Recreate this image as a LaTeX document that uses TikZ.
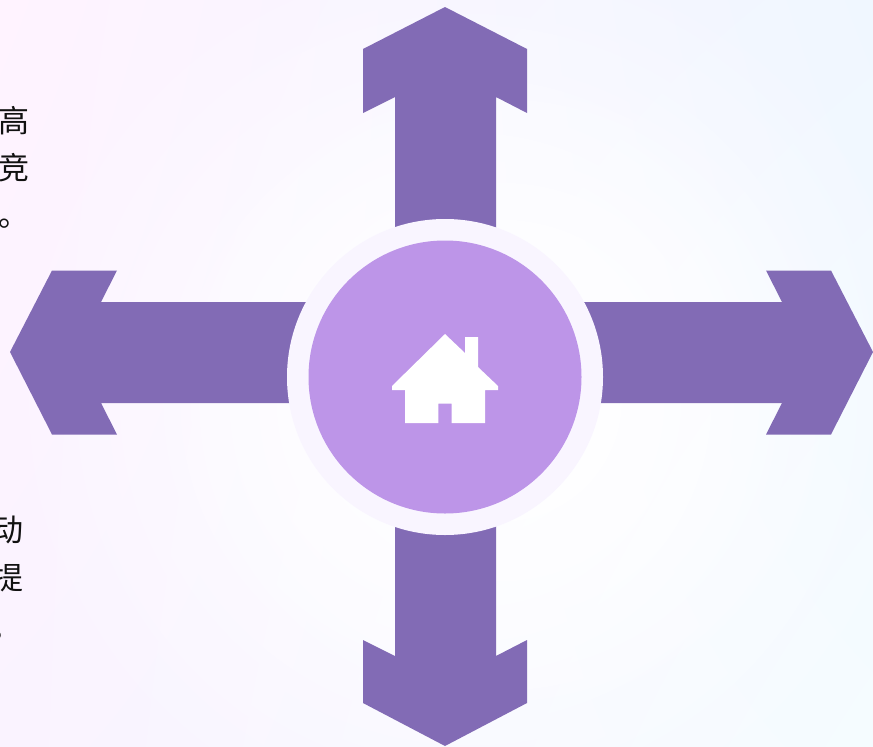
\documentclass[tikz,border=0pt]{standalone}
\usepackage{fontspec}
\newfontfamily\cjk{Noto Sans CJK SC}
\usetikzlibrary{fadings,shadings}
\definecolor{arrowcol}{HTML}{826BB5}
\definecolor{ringcol}{HTML}{F9F5FF}
\definecolor{corecol}{HTML}{BD95E8}
\definecolor{textcol}{HTML}{111111}
\definecolor{bgul}{HTML}{FFF3FF}
\definecolor{bgur}{HTML}{F0F7FF}
\definecolor{bgll}{HTML}{FAF3FF}
\definecolor{bglr}{HTML}{F5FCFF}
\tikzfading[name=centerfade, inner color=transparent!0, outer color=transparent!100]
\tikzset{
  bigarrow/.style={fill=arrowcol,draw=none},
  disc/.style={circle,draw=none,inner sep=0pt,outer sep=0pt},
  sidetext/.style={font=\cjk\fontsize{31}{31}\selectfont,text=textcol,inner sep=0pt,anchor=base west}
}
\begin{document}
\begin{tikzpicture}[x=1pt,y=-1pt]
\useasboundingbox (0,0) rectangle (873,747);
\clip (0,0) rectangle (873,747);
% background
\shade[upper left=bgul,upper right=bgur,lower left=bgll,lower right=bglr]
  (0,0) rectangle (873,747);
\fill[white,path fading=centerfade] (470,400) circle (480);
\fill[white,path fading=centerfade] (500,400) circle (360);
% arrows
\fill[bigarrow] (445,7) -- (527,49) -- (527,113) -- (496,97) -- (496,250) -- (395,250) -- (395,97) -- (363,113) -- (363,49) -- cycle;
\fill[bigarrow] (445,746) -- (527,703) -- (527,640) -- (496,656) -- (496,510) -- (395,510) -- (395,656) -- (363,640) -- (363,703) -- cycle;
\fill[bigarrow] (10,352) -- (52,270.5) -- (117,270.5) -- (101,302) -- (320,302) -- (320,403) -- (101,403) -- (117,434.5) -- (52,434.5) -- cycle;
\fill[bigarrow] (873,352) -- (831,270.5) -- (766,270.5) -- (782,302) -- (570,302) -- (570,403) -- (782,403) -- (766,434.5) -- (831,434.5) -- cycle;
% centre
\node[disc,fill=ringcol,minimum size=316pt] (ring) at (445,377) {};
\node[disc,fill=corecol,minimum size=273pt] (core) at (445,377) {};
% house
\fill[white] (445,334) -- (465,353) -- (465,337) -- (478,337) -- (478,367) -- (498,386) -- (498,390) -- (485,390) -- (485,423)
  -- (451.7,423) -- (451.7,403.5) -- (438.3,403.5) -- (438.3,423) -- (405,423) -- (405,390) -- (392,390) -- (392,386) -- cycle;
% clipped text
\node[sidetext] (t1) at (-2,132) {高};
\node[sidetext] (t2) at (-2,179) {竞};
\node[sidetext] (t3) at (-2,226) {。};
\node[sidetext] (t4) at (-8,541) {动};
\node[sidetext] (t5) at (-8,589) {提};
\node[sidetext] (t6) at (-9.5,638) {。};
\end{tikzpicture}
\end{document}
